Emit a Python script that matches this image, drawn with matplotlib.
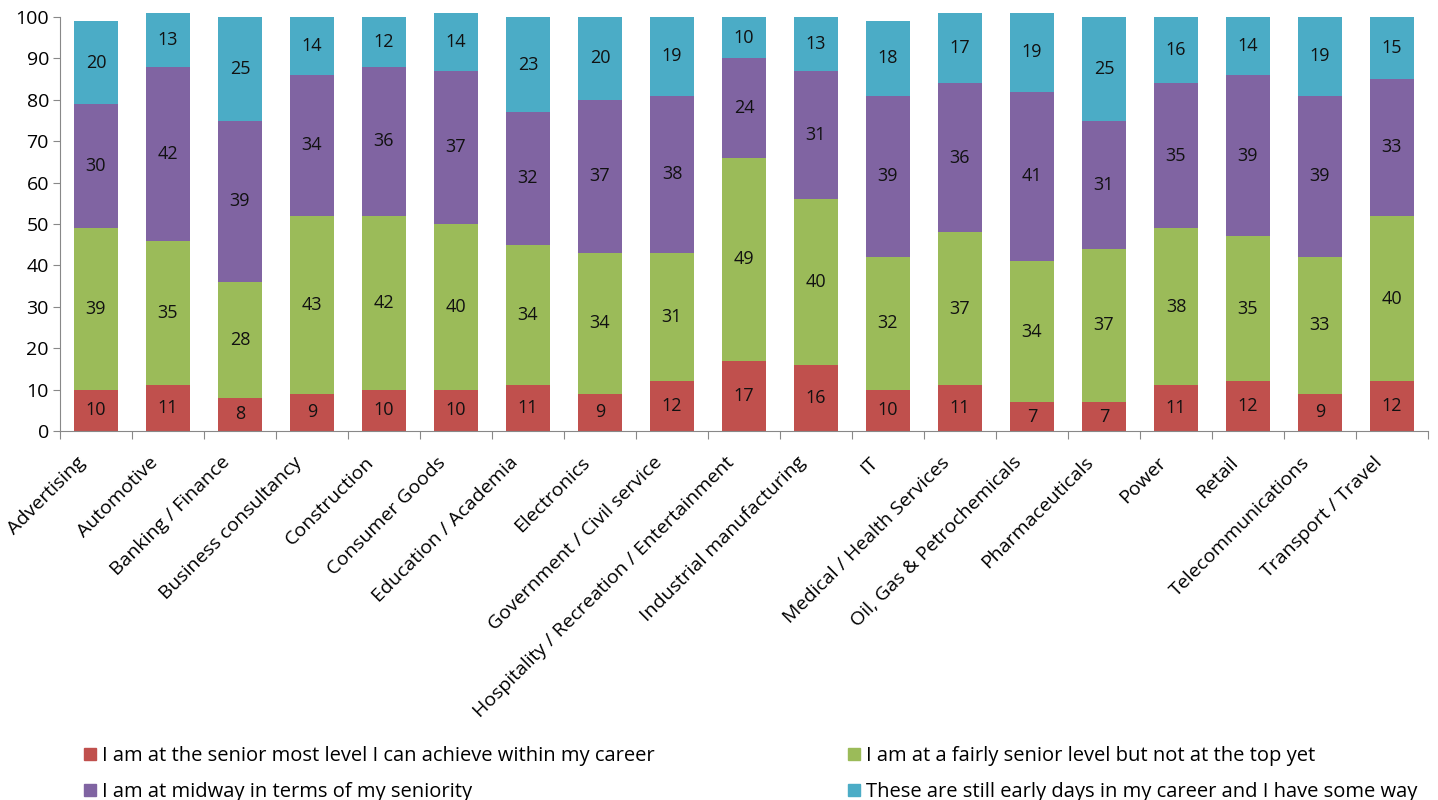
import numpy as np
import matplotlib
matplotlib.use("Agg")
import matplotlib.pyplot as plt
import matplotlib.patches as mpt
from matplotlib.transforms import ScaledTranslation

plt.rcParams['font.family'] = ['Open Sans', 'DejaVu Sans']

sectors = ["Advertising", "Automotive", "Banking / Finance", "Business consultancy",
           "Construction", "Consumer Goods", "Education / Academia", "Electronics",
           "Government / Civil service", "Hospitality / Recreation / Entertainment",
           "Industrial manufacturing", "IT", "Medical / Health Services",
           "Oil, Gas & Petrochemicals", "Pharmaceuticals", "Power", "Retail",
           "Telecommunications", "Transport / Travel"]

senior_most = [10, 11, 8, 9, 10, 10, 11, 9, 12, 17, 16, 10, 11, 7, 7, 11, 12, 9, 12]
fairly_senior = [39, 35, 28, 43, 42, 40, 34, 34, 31, 49, 40, 32, 37, 34, 37, 38, 35, 33, 40]
midway = [30, 42, 39, 34, 36, 37, 32, 37, 38, 24, 31, 39, 36, 41, 31, 35, 39, 39, 33]
early_days = [20, 13, 25, 14, 12, 14, 23, 20, 19, 10, 13, 18, 17, 19, 25, 16, 14, 19, 15]

series_names = ["I am at the senior most level I can achieve within my career",
                "I am at a fairly senior level but not at the top yet",
                "I am at midway in terms of my seniority",
                "These are still early days in my career and I have some way"]
colours = ["#C0504D", "#9BBB59", "#8064A2", "#4BACC6"]

fig = plt.figure(figsize=(14.38, 8.0), dpi=100)
ax = fig.add_axes([60/1438, 1 - 431/800, 1368/1438, 414/800])

x = np.arange(len(sectors))
bottom = np.zeros(len(sectors))
for vals, col in zip([senior_most, fairly_senior, midway, early_days], colours):
    vals = np.array(vals, dtype=float)
    ax.bar(x, vals, 0.61, bottom=bottom, color=col, clip_on=False, zorder=2)
    for xi, v, b0 in zip(x, vals, bottom):
        ax.text(xi, b0 + v/2.0, "%d" % v, ha='center', va='center',
                fontsize=13, color='#111111', zorder=3)
    bottom += vals

ax.set_xlim(-0.5, len(sectors) - 0.5)
ax.set_ylim(0, 100)
ax.set_yticks(np.arange(0, 101, 10))
ax.tick_params(axis='y', labelsize=14, length=5, direction='out', color='#888888', pad=3)

# category ticks sit between bars, labels hang under each bar
ax.set_xticks(np.arange(-0.5, len(sectors), 1.0))
ax.set_xticklabels([])
ax.tick_params(axis='x', length=6, direction='out', color='#888888')
off = ScaledTranslation(-14/72., -16/72., fig.dpi_scale_trans)
for xi, name in zip(x, sectors):
    t = ax.text(xi, 0, name, rotation=45, ha='right', va='top', rotation_mode='anchor',
                fontsize=14)
    t.set_transform(ax.get_xaxis_transform() + off)

for side in ['top', 'right']:
    ax.spines[side].set_visible(False)
ax.spines['left'].set_color('#888888')
ax.spines['bottom'].set_color('#888888')

handles = [mpt.Patch(color=c) for c in colours]
order = [0, 2, 1, 3]
fig.legend([handles[i] for i in order], [series_names[i] for i in order],
           loc='upper left', bbox_to_anchor=(80/1438, 1 - 742/800), ncol=2,
           frameon=False, fontsize=14.5, handlelength=0.6, handleheight=0.6,
           handletextpad=0.3, columnspacing=9.6, labelspacing=0.8,
           borderaxespad=0, borderpad=0.2)

fig.savefig("out.png", dpi=100)
